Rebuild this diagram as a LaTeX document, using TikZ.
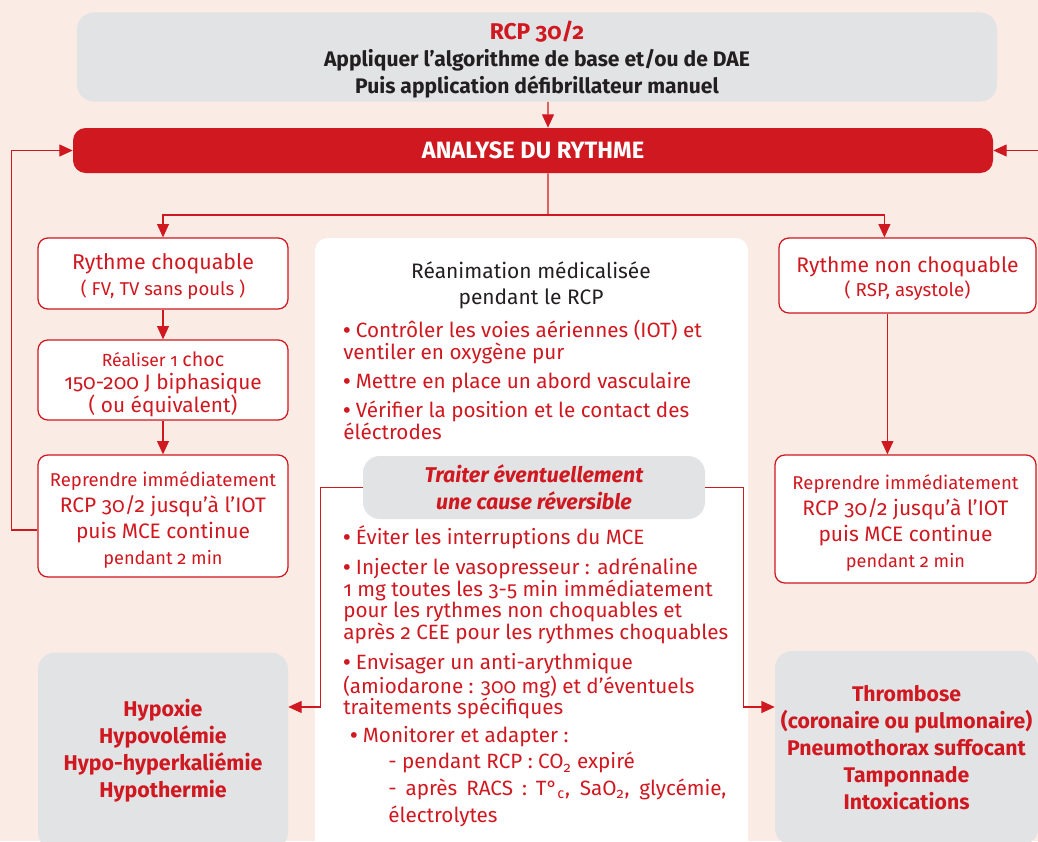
\documentclass[tikz,border=0pt]{standalone}
\usepackage{fontspec}
\setmainfont{Fira Sans}[Numbers=OldStyle]
\usetikzlibrary{arrows.meta}

\definecolor{rcpred}{RGB}{208,24,32}
\definecolor{rcpgrey}{RGB}{226,227,229}
\definecolor{rcpbg}{RGB}{250,235,228}
\definecolor{rcpdark}{RGB}{35,31,32}
\newcommand{\fsz}[2]{\fontsize{#1}{#2}\selectfont}
\newcommand{\bul}{\rule{0pt}{1em}{\bfseries\textbullet}\ }

\tikzset{
  boxsize/.style 2 args={minimum width=#1*0.025cm, minimum height=#2*0.025cm},
  stepbox/.style={draw=rcpred, line width=0.9pt, fill=white, rounded corners=7pt,
    inner sep=0pt, text=rcpred, align=center},
  greybox/.style={fill=rcpgrey, rounded corners=9pt, inner sep=0pt, align=center},
  causebox/.style={greybox, text=rcpred, font=\bfseries\fsz{15.2}{19.3}},
  bulletxt/.style={anchor=north west, inner sep=0pt, align=left, text=rcpred,
    font=\fsz{14.7}{15.3}},
  link/.style={draw=rcpred, line width=0.9pt, -{Triangle[length=9.5pt,width=8.5pt]}},
  wire/.style={draw=rcpred, line width=0.9pt},
}

\begin{document}
\begin{tikzpicture}[x=0.025cm, y=-0.025cm]
  \useasboundingbox (0,0) rectangle (1038,841);
  \clip (0,0) rectangle (1038,841);
  \fill[rcpbg] (0,0) rectangle (1038,841);

  \node[greybox, boxsize={920}{89}, rounded corners=12pt, text=rcpdark,
    font=\bfseries\fsz{15}{19.2}] (top) at (537,57)
    {\rule{0pt}{17pt}{\color{rcpred}\fsz{16.2}{19.2}RCP 30/2}\\Appliquer l’algorithme de base et/ou de DAE\\Puis application défibrillateur manuel};
  \node[fill=rcpred, rounded corners=9pt, boxsize={920}{45}, inner sep=0pt,
    text=white, font=\bfseries\fsz{16.8}{18}] (analyse) at (533,150.5) {ANALYSE DU RYTHME};

  \node[stepbox, boxsize={250}{71}, font=\fsz{15.2}{18.5}] (choq) at (163,273.5)
    {\rule{0pt}{15pt}Rythme choquable\\{\fsz{13.2}{18.5}( FV, TV sans pouls )}};
  \node[stepbox, boxsize={250}{80}, font=\fsz{14.8}{16.4}] (choc) at (163,380)
    {\rule{0pt}{17pt}{\fsz{12.5}{16.4}Réaliser 1 }{\fsz{14}{16.4}choc}\\150-200 J biphasique\\( ou équivalent)};
  \node[stepbox, boxsize={250}{122}, font=\fsz{14.9}{18.5}] (repG) at (163,516)
    {\rule{0pt}{16pt}{\fsz{13.2}{18.5}Reprendre immédiatement}\\RCP 30/2 jusqu’à l’IOT\\puis MCE continue\\{\fsz{12.9}{18.5}pendant 2 min}};

  \node[stepbox, boxsize={257}{75}, font=\fsz{15}{17}] (nonchoq) at (907.5,275.5)
    {\rule{0pt}{16pt}Rythme non choquable\\{\fsz{13.3}{17}( RSP, asystole)}};
  \node[stepbox, boxsize={261}{128}, font=\fsz{14.9}{18.5}] (repD) at (905.5,519)
    {\rule{0pt}{16pt}{\fsz{13.2}{18.5}Reprendre immédiatement}\\RCP 30/2 jusqu’à l’IOT\\puis MCE continue\\{\fsz{12.9}{18.5}pendant 2 min}};

  \node[fill=white, rounded corners=9pt, boxsize={433}{640}, inner sep=0pt] (panel) at (531.5,558) {};
  \node[align=center, inner sep=0pt, text=rcpdark, font=\fsz{14.9}{18.5}] (medhead) at (531,285)
    {Réanimation médicalisée\\pendant le RCP};
  \node[bulletxt] (airway) at (343,317) {\bul Contrôler les voies aériennes (IOT) et\\ventiler en oxygène pur};
  \node[bulletxt] (access) at (343,368) {\bul Mettre en place un abord vasculaire};
  \node[bulletxt] (electro) at (343,397) {\bul Vérifier la position et le contact des\\éléctrodes};
  \node[causebox, boxsize={342}{63}, rounded corners=12pt] (cause) at (534,487.5)
    {\itshape Traiter éventuellement\\\itshape une cause réversible};
  \node[bulletxt] (mce) at (343,524) {\bul Éviter les interruptions du MCE};
  \node[bulletxt] (adren) at (343,554) {\bul Injecter le vasopresseur : adrénaline\\1 mg toutes les 3-5 min immédiatement\\pour les rythmes non choquables et\\après 2 CEE pour les rythmes choquables};
  \node[bulletxt] (amio) at (343,649) {\bul Envisager un anti-arythmique\\(amiodarone : 300 mg) et d’éventuels\\traitements spécifiques};
  \node[bulletxt] (monit) at (350,722) {\bul Monitorer et adapter :};
  \node[bulletxt, font=\fsz{14.7}{18.9}] (monitl) at (388,748)
    {\rule{0pt}{1em}- pendant RCP : CO\textsubscript{2} expiré\\\makebox[8.45cm][s]{- après RACS : T°\textsubscript{c}, SaO\textsubscript{2}, glycémie,}\\électrolytes};

  \node[greybox, rounded corners=12pt, boxsize={250}{197}, text=rcpred,
    font=\bfseries\fsz{15.2}{19.2}] (hypo) at (163,751)
    {Hypoxie\\Hypovolémie\\Hypo-hyperkaliémie\\Hypothermie};
  \node[greybox, rounded corners=12pt, boxsize={263}{194}, text=rcpred,
    font=\bfseries\fsz{15.1}{19.2}] (thrombo) at (906.5,748)
    {Thrombose\\(coronaire ou pulmonaire)\\Pneumothorax suffocant\\Tamponnade\\Intoxications};

  \coordinate (split) at (548,215);
  \coordinate (loopR) at (1045,150.5);
  \draw[link] ([xshift=0.275cm]top.south) -- ([xshift=0.375cm]analyse.north);
  \draw[wire] ([xshift=0.375cm]analyse.south) -- (split);
  \draw[link] (split) -| (choq.north);
  \draw[link] (split) -| ([xshift=2.65cm]nonchoq.north west);
  \draw[link] (choq) -- (choc);
  \draw[link] (choc) -- (repG);
  \draw[link] ([xshift=2.725cm]nonchoq.south west) -- ([xshift=2.725cm]nonchoq.south west |- repD.north);
  \draw[link] ([yshift=-0.35cm]repG.west) -- ++(-26,0) |- (analyse.west);
  \draw[link] (loopR) -- (analyse.east);
  \draw[link] (cause.west) -- ++(-42,0) |- ([yshift=1.1cm]hypo.east);
  \draw[link] (cause.east) -- ++(38,0) |- ([yshift=1.025cm]thrombo.west);
\end{tikzpicture}
\end{document}
